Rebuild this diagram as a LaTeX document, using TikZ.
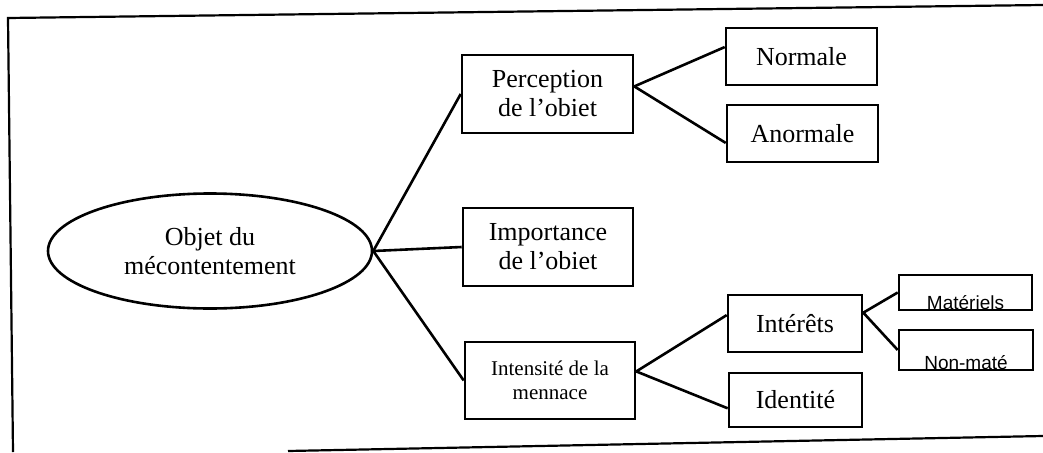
\documentclass[tikz,border=0pt]{standalone}
\usepackage{fontspec}
\setmainfont{Liberation Serif}
\newfontfamily\sansfont{Liberation Sans}
\usetikzlibrary{shapes.geometric}

\begin{document}
\begin{tikzpicture}[
x=1pt,y=-1pt,
line width=2.6pt,
cadre/.style={
  line width=2.2pt
  },
boite/.style={
  draw,
  rectangle,
  inner sep=0pt,
  align=center,
  font=\fontsize{26}{29}\selectfont
  },
petite/.style={
  boite,
  font=\sansfont\fontsize{19}{22}\selectfont,
  text depth=0pt
  },
bulle/.style={
  draw,
  ellipse,
  inner sep=0pt,
  align=center,
  minimum width=324pt,
  minimum height=115pt,
  font=\fontsize{26}{29}\selectfont
  }
]
\useasboundingbox (0,0) rectangle (1043,452);
% cadre
\draw[cadre] (1043,5) -- (8,18) -- (13,452);
\draw[cadre] (288,451) -- (1043,436);
% noeuds
\node[bulle] (obj) at (210,251) {Objet du\\mécontentement};
\node[boite,minimum width=171pt,minimum height=78pt] (per) at (547.5,94) {Perception\\de l'obiet};
\node[boite,minimum width=170pt,minimum height=78pt] (imp) at (548,247) {Importance\\de l'obiet};
\node[boite,minimum width=170pt,minimum height=77pt,
  font=\fontsize{21}{24}\selectfont] (ins) at (550,380.5) {Intensité de la\\mennace};
\node[boite,minimum width=151pt,minimum height=57pt] (nor) at (801.5,56.5) {Normale};
\node[boite,minimum width=151pt,minimum height=57pt] (ano) at (802.5,133.5) {Anormale};
\node[boite,minimum width=134pt,minimum height=57pt] (inr) at (795,323.5) {Intérêts};
\node[boite,minimum width=133pt,minimum height=54pt] (ide) at (795.5,400) {Identité};
\node[petite,minimum width=133pt,minimum height=35pt,text height=33pt] (mat) at (965.5,292.5) {Matériels};
\node[petite,minimum width=134pt,minimum height=40pt,text height=38pt] (nmat) at (966,350) {Non-maté};
% liaisons
\foreach \From/\To in {obj.east/per.west,obj.east/imp.west,obj.east/ins.west,
  per.5/nor.173,per.5/ano.187,
  ins.6/inr.173,ins.6/ide.187,
  inr.9/mat.west,inr.9/nmat.west}
  \draw (\From) -- (\To);
\end{tikzpicture}
\end{document}
